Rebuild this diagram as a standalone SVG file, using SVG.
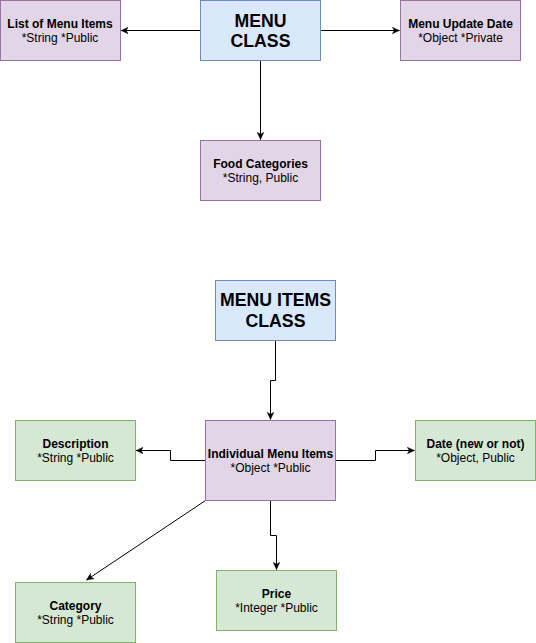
<svg xmlns="http://www.w3.org/2000/svg" width="536" height="643" viewBox="0 0 536 643">
<style>
.p{fill:#e1d5e7;stroke:#9673a6;stroke-width:1}
.b{fill:#dae8fc;stroke:#6c8ebf;stroke-width:1}
.g{fill:#d5e8d4;stroke:#82b366;stroke-width:1}
text{font-family:"Liberation Sans",Arial,sans-serif;fill:#000;text-anchor:middle}
.t{font-size:12px;font-weight:bold}
.s{font-size:12px}
.h{font-size:17.7px;font-weight:bold}
.c{fill:none;stroke:#000;stroke-width:1}
</style>
<defs>
<marker id="a" viewBox="0 0 10 10" refX="9" refY="5" markerWidth="8" markerHeight="8" markerUnits="userSpaceOnUse" orient="auto">
<path d="M0,0.8 L9,5 L0,9.2 L2.5,5 Z" fill="#000" stroke="#000" stroke-width="0.5"/>
</marker>
</defs>
<g id="connectors">
<path class="c" d="M200.5 30.5 H121" marker-end="url(#a)"/>
<path class="c" d="M320.5 30.5 H399.5" marker-end="url(#a)"/>
<path class="c" d="M260.5 60.5 V139.5" marker-end="url(#a)"/>
<path class="c" d="M275.5 340.5 V380.5 H270.5 V419.5" marker-end="url(#a)"/>
<path class="c" d="M205.5 460.5 H170.5 V450.5 H136" marker-end="url(#a)"/>
<path class="c" d="M335.5 460.5 H375.5 V450.5 H414.5" marker-end="url(#a)"/>
<path class="c" d="M205.5 500.5 L86.5 580" marker-end="url(#a)"/>
<path class="c" d="M270.5 500.5 V535.5 H276.5 V569.5" marker-end="url(#a)"/>
</g>
<g id="list-of-menu-items">
<rect class="p" x="0.5" y="0.5" width="120" height="60"/>
<text class="t" x="60" y="28">List of Menu Items</text>
<text class="s" x="60" y="42">*String *Public</text>
</g>
<g id="menu-class">
<rect class="b" x="200.5" y="0.5" width="120" height="60"/>
<text class="h" x="260.5" y="26.9">MENU</text>
<text class="h" x="260.5" y="46.9">CLASS</text>
</g>
<g id="menu-update-date">
<rect class="p" x="400.5" y="0.5" width="120" height="60"/>
<text class="t" x="460.5" y="28">Menu Update Date</text>
<text class="s" x="460.5" y="42">*Object *Private</text>
</g>
<g id="food-categories">
<rect class="p" x="200.5" y="140.5" width="120" height="60"/>
<text class="t" x="260.5" y="168">Food Categories</text>
<text class="s" x="260.5" y="182">*String, Public</text>
</g>
<g id="menu-items-class">
<rect class="b" x="215.5" y="280.5" width="120" height="60"/>
<text class="h" x="275.5" y="306.2">MENU ITEMS</text>
<text class="h" x="275.5" y="326.9">CLASS</text>
</g>
<g id="individual-menu-items">
<rect class="p" x="205.5" y="420.5" width="130" height="80"/>
<text class="t" x="270.5" y="458">Individual Menu Items</text>
<text class="s" x="270.5" y="472">*Object *Public</text>
</g>
<g id="description">
<rect class="g" x="15.5" y="420.5" width="120" height="60"/>
<text class="t" x="75.5" y="448">Description</text>
<text class="s" x="75.5" y="462">*String *Public</text>
</g>
<g id="date">
<rect class="g" x="415.5" y="420.5" width="120" height="60"/>
<text class="t" x="475.5" y="448">Date (new or not)</text>
<text class="s" x="475.5" y="462">*Object, Public</text>
</g>
<g id="category">
<rect class="g" x="15.5" y="582.5" width="120" height="60"/>
<text class="t" x="75.5" y="610">Category</text>
<text class="s" x="75.5" y="624">*String *Public</text>
</g>
<g id="price">
<rect class="g" x="216.5" y="570.5" width="120" height="60"/>
<text class="t" x="276.5" y="598">Price</text>
<text class="s" x="276.5" y="612">*Integer *Public</text>
</g>
</svg>
